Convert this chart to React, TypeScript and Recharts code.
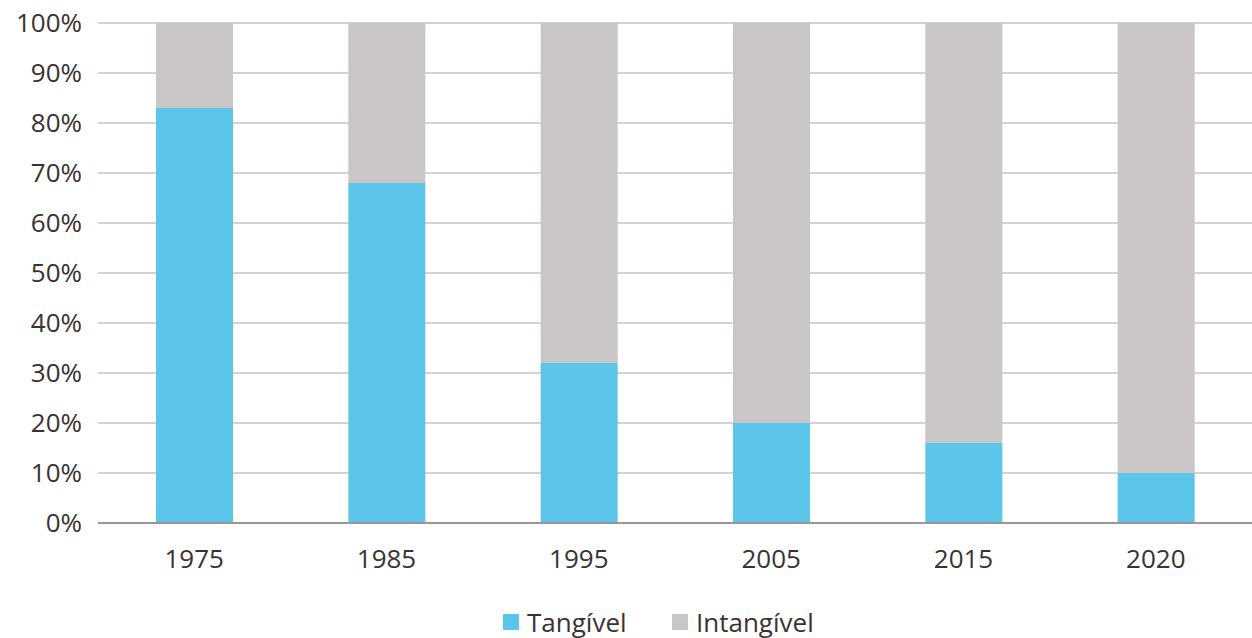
import React from "react";
import { BarChart, Bar, XAxis, YAxis, CartesianGrid } from "recharts";

const years = ["1975", "1985", "1995", "2005", "2015", "2020"];
const tangivel = [83, 68, 32, 20, 16, 10];
const intangivel = [17, 32, 68, 80, 84, 90];
const yTicks = [0, 10, 20, 30, 40, 50, 60, 70, 80, 90, 100];
const seriesNames = ["Tangível", "Intangível"];
const colors = ["#5BC5EA", "#C9C6C5"];

const data = years.map((y, i) => ({ year: y, t: tangivel[i], i: intangivel[i] }));

const FONT = "'Open Sans', 'Noto Sans', sans-serif";
const TEXT = "#3a3232";

export default function App() {
  return (
    <div style={{ position: "absolute", left: 0, top: 0, width: 1252, height: 638, background: "#fff" }}>
      <BarChart width={1252} height={638} data={data} margin={{ top: 23, right: 0, bottom: 85, left: 0 }}>
        <CartesianGrid vertical={false} stroke="#a9a5a5" strokeWidth={1} />
        <XAxis
          dataKey="year"
          height={30}
          tickLine={false}
          axisLine={{ stroke: "#9a9696", strokeWidth: 2 }}
          tickSize={6}
          tickMargin={21}
          tick={{ fill: TEXT, fontSize: 26, fontFamily: FONT }}
        />
        <YAxis
          width={98}
          domain={[0, 100]}
          ticks={yTicks}
          interval={0}
          tickFormatter={(v) => `${v}%`}
          axisLine={false}
          tickLine={false}
          tickSize={6}
          tickMargin={10}
          tick={{ fill: TEXT, fontSize: 26, fontFamily: FONT }}
        />
        <Bar dataKey="t" name={seriesNames[0]} stackId="a" fill={colors[0]} barSize={77} isAnimationActive={false} />
        <Bar dataKey="i" name={seriesNames[1]} stackId="a" fill={colors[1]} barSize={77} isAnimationActive={false} />
      </BarChart>
      {seriesNames.map((n, k) => (
        <div
          key={n}
          style={{
            position: "absolute",
            left: k === 0 ? 503 : 672,
            top: 606,
            height: 32,
            display: "flex",
            alignItems: "center",
            fontFamily: FONT,
            fontSize: 26,
            color: TEXT,
          }}
        >
          <div style={{ width: 16, height: 16, background: colors[k], marginRight: 8 }} />
          <span>{n}</span>
        </div>
      ))}
    </div>
  );
}
